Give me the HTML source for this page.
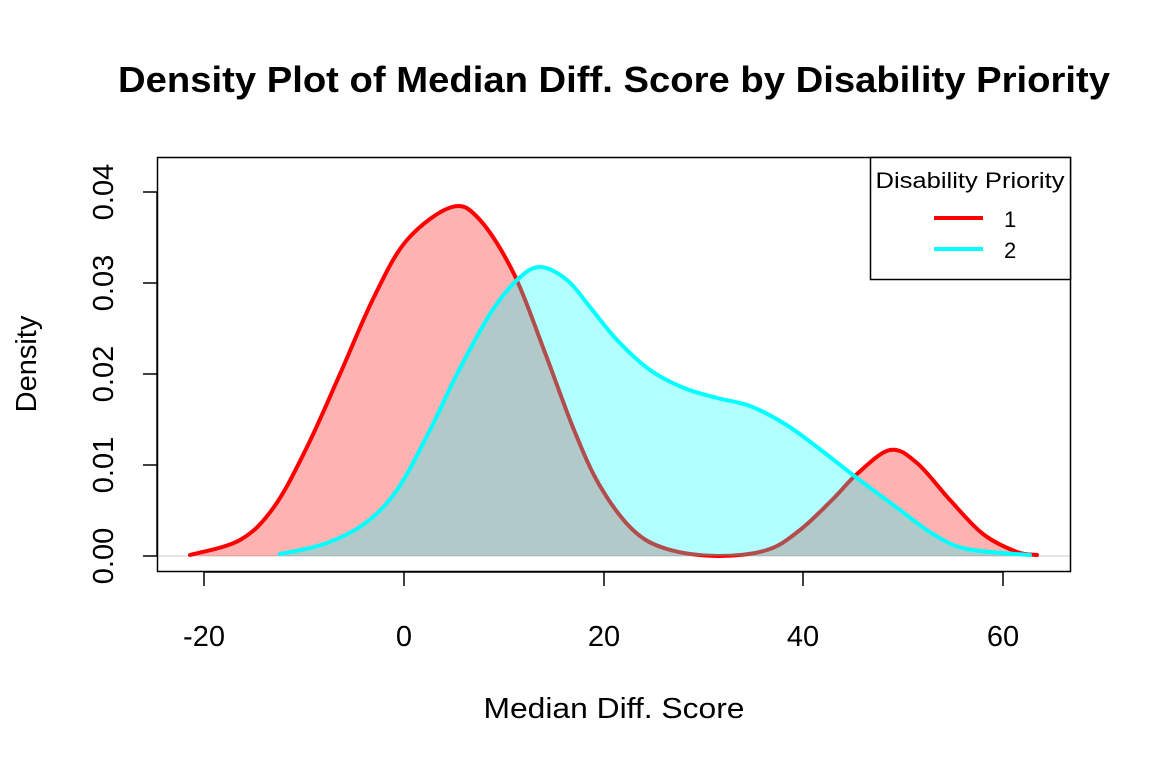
<!DOCTYPE html>
<html><head><meta charset="utf-8"><style>body{margin:0;background:#fff}svg{display:block}</style></head>
<body>
<svg width="1152" height="768" viewBox="0 0 1152 768" font-family="Liberation Sans, Arial, sans-serif">
<rect width="1152" height="768" fill="#fff"/>
<text x="614" y="92" text-anchor="middle" font-size="36" font-weight="bold" textLength="992" lengthAdjust="spacingAndGlyphs">Density Plot of Median Diff. Score by Disability Priority</text>
<line x1="157" y1="556" x2="1071" y2="556" stroke="#ddd" stroke-width="1.5"/>
<path id="rf" fill="rgba(255,0,0,0.3)" stroke="none"/>
<path id="rl" fill="none" stroke="#f00" stroke-width="4" stroke-linecap="round"/>
<path id="cf" fill="rgba(0,255,255,0.3)" stroke="none"/>
<path id="cl" fill="none" stroke="#0ff" stroke-width="4" stroke-linecap="round"/>
<rect x="157.5" y="157.5" width="913" height="414" fill="none" stroke="#000" stroke-width="1.5"/>
<rect x="870.5" y="157.5" width="200" height="122" fill="#fff" stroke="#000" stroke-width="1.5"/>
<text x="970" y="188" text-anchor="middle" font-size="22" textLength="189" lengthAdjust="spacingAndGlyphs">Disability Priority</text>
<line x1="934" y1="218" x2="983" y2="218" stroke="#f00" stroke-width="4"/>
<line x1="934" y1="249" x2="983" y2="249" stroke="#0ff" stroke-width="4"/>
<text x="1004" y="227" font-size="22">1</text>
<text x="1004" y="258" font-size="22">2</text>
<g stroke="#000" stroke-width="1.5">
<line x1="204" y1="572" x2="1003" y2="572"/>
<line x1="204" y1="572" x2="204" y2="586"/><line x1="404" y1="572" x2="404" y2="586"/><line x1="604" y1="572" x2="604" y2="586"/><line x1="803" y1="572" x2="803" y2="586"/><line x1="1003" y1="572" x2="1003" y2="586"/>
<line x1="157" y1="192" x2="157" y2="556"/>
<line x1="143" y1="556" x2="157" y2="556"/><line x1="143" y1="465" x2="157" y2="465"/><line x1="143" y1="374" x2="157" y2="374"/><line x1="143" y1="283" x2="157" y2="283"/><line x1="143" y1="192" x2="157" y2="192"/>
</g>
<g font-size="29" text-anchor="middle">
<text x="204" y="646">-20</text><text x="404" y="646">0</text><text x="604" y="646">20</text><text x="803" y="646">40</text><text x="1003" y="646">60</text>
<text x="614" y="718" textLength="261" lengthAdjust="spacingAndGlyphs">Median Diff. Score</text>
<text transform="translate(113,556) rotate(-90)">0.00</text>
<text transform="translate(113,465) rotate(-90)">0.01</text>
<text transform="translate(113,374) rotate(-90)">0.02</text>
<text transform="translate(113,283) rotate(-90)">0.03</text>
<text transform="translate(113,192) rotate(-90)">0.04</text>
<text transform="translate(36,364) rotate(-90)">Density</text>
</g>
</svg>
<script>
function cr(p){var d="M"+p[0][0]+","+p[0][1];for(var i=0;i<p.length-1;i++){var a=p[i-1]||p[i],b=p[i],c=p[i+1],e=p[i+2]||c;
d+=" C"+(b[0]+(c[0]-a[0])/6)+","+(b[1]+(c[1]-a[1])/6)+" "+(c[0]-(e[0]-b[0])/6)+","+(c[1]-(e[1]-b[1])/6)+" "+c[0]+","+c[1];}return d;}
var R=[[190,555],[240,540],[274,507],[307,447],[340,374],[374,297],[407,240],[452,207],[480,220],[514,274],[544,350],[574,430],[600,486],[633,530],[667,549],[717,556],[767,550],[800,530],[833,499],[857,474],[890,450],[917,463],[950,500],[983,534],[1017,552],[1037,555]];
var C=[[280,554],[324,544],[364,524],[397,490],[430,430],[457,374],[490,314],[517,280],[540,267],[567,280],[590,307],[617,340],[650,370],[684,388],[717,398],[750,406],[785,424],[817,447],[857,478],[900,510],[933,534],[967,549],[1030,555]];
function set(id,d){document.getElementById(id).setAttribute("d",d);}
var r=cr(R),c=cr(C);
set("rl",r);set("rf",r+" L1037,556 L190,556 Z");
set("cl",c);set("cf",c+" L1030,556 L280,556 Z");
</script>
</body></html>
